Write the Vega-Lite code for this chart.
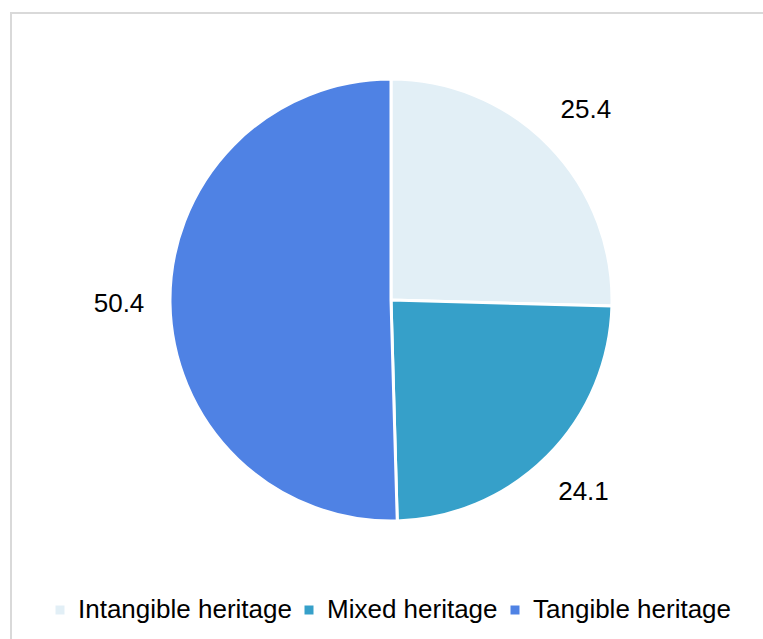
{
  "$schema": "https://vega.github.io/schema/vega-lite/v6.json",
  "autosize": "none",
  "width": 760,
  "height": 640,
  "padding": {"left": 11, "top": 13, "right": 0, "bottom": 0},
  "background": "white",
  "view": {"stroke": "#d9d9d9", "strokeWidth": 2},
  "config": {
    "font": "Liberation Sans"
  },
  "data": {
    "values": [
      {"category": "Intangible heritage", "value": 25.4, "order": 1},
      {"category": "Mixed heritage", "value": 24.1, "order": 2},
      {"category": "Tangible heritage", "value": 50.4, "order": 3}
    ]
  },
  "encoding": {
    "theta": {"field": "value", "type": "quantitative", "stack": true},
    "order": {"field": "order", "type": "quantitative"}
  },
  "layer": [
    {
      "mark": {"type": "arc", "outerRadius": 221, "stroke": "white", "strokeWidth": 3, "y": 287},
      "encoding": {
        "color": {
          "field": "category",
          "type": "nominal",
          "sort": ["Intangible heritage", "Mixed heritage", "Tangible heritage"],
          "scale": {
            "domain": ["Intangible heritage", "Mixed heritage", "Tangible heritage"],
            "range": ["#e2eff6", "#36a0c9", "#4f82e4"]
          },
          "legend": {
            "title": null,
            "orient": "none",
            "direction": "horizontal",
            "legendX": 36,
            "legendY": 584,
            "padding": 0,
            "symbolType": "square",
            "symbolSize": 81,
            "symbolStrokeWidth": 0,
            "labelFontSize": 26,
            "labelColor": "#000000",
            "labelOffset": 5,
            "columnPadding": 4,
            "labelLimit": 400
          }
        }
      }
    },
    {
      "mark": {"type": "text", "radius": 272, "fontSize": 26, "color": "#000000", "y": 287},
      "encoding": {
        "text": {"field": "value", "type": "quantitative", "format": ".1f"}
      }
    }
  ]
}
